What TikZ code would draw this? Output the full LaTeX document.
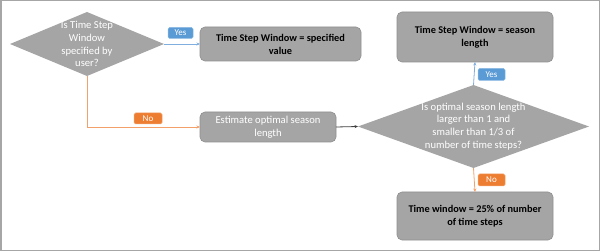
\documentclass[tikz,border=0pt]{standalone}
\usepackage{fontspec}
\setmainfont{Carlito}
\usetikzlibrary{shapes.geometric,arrows.meta}
\definecolor{boxgray}{HTML}{A5A5A5}
\definecolor{edgegray}{HTML}{8F8F8F}
\definecolor{lblue}{HTML}{5B9BD5}
\definecolor{lorange}{HTML}{ED7D31}
\definecolor{lineorange}{HTML}{F4A06A}
\definecolor{lineblue}{HTML}{7FAEDF}
\definecolor{framegray}{HTML}{A6A6A6}
\tikzset{
  procbox/.style={draw=edgegray, line width=0.6pt, fill=boxgray, rounded corners=5pt, inner sep=0pt, outer sep=0pt, align=center, font=\fontsize{10.3}{13}\selectfont\bfseries, text=black},
  dia/.style={diamond, fill=boxgray, draw=none, inner sep=0pt, outer sep=0pt},
  diatext/.style={align=center, text=white, font=\fontsize{10.6}{12.8}\selectfont, inner sep=0pt},
  lbl/.style={rounded corners=1.5pt, inner sep=0pt, minimum width=27pt, minimum height=12pt, text=white, font=\fontsize{9}{10}\selectfont},
  yeslbl/.style={lbl, fill=lblue, draw=lblue!70!white, line width=0.5pt},
  nolbl/.style={lbl, fill=lorange, draw=lorange!70!white, line width=0.5pt},
  arr/.style={-{Stealth[length=3.5pt,width=3pt]}, line width=0.8pt}
}
\begin{document}
\begin{tikzpicture}[x=1pt,y=-1pt]
\useasboundingbox (0,0) rectangle (600,251);
\draw[framegray, line width=1.5pt] (0.75,0.75) rectangle (599.25,250.25);

% decision 1
\node[dia, minimum width=154pt, minimum height=64pt] (d1) at (87,44) {};
\node[diatext] (d1t) at (87,44) {Is Time Step\\Window\\specified by\\user?};

% box specified value
\node[procbox, minimum width=161pt, minimum height=34pt] (b1) at (280.5,44) {Time Step Window = specified\\value};

% estimate box
\node[procbox, font=\fontsize{10.6}{13}\selectfont, text=white, minimum width=136pt, minimum height=30pt] (est) at (268,127) {Estimate optimal season\\length};

% decision 2
\node[dia, minimum width=231pt, minimum height=83pt] (d2) at (473.5,126.5) {};
\node[diatext] (d2t) at (473.5,126.5) {Is optimal season length\\larger than 1 and\\smaller than 1/3 of\\number of time steps?};

% top right box
\node[procbox, minimum width=156pt, minimum height=50pt] (b2) at (475,37) {Time Step Window = season\\length};

% bottom box
\node[procbox, minimum width=156pt, minimum height=48pt] (b3) at (475,216) {Time window = 25\% of number\\of time steps};

% connectors
\draw[arr, lineblue] (d1.east) -- (b1.west);
\coordinate (c1) at (d1.south |- est.west);
\draw[arr, lineorange] (d1.south) -- (c1) -- (est.west);
\draw[arr, black!75] (est.east) -- (d2.west);
\draw[arr, lineblue] (d2.north) -- (b2.south);
\draw[arr, lineorange] (d2.south) -- (b3.north);

% labels
\node[yeslbl, minimum width=25pt, minimum height=11pt] (y1) at (180.5,33) {Yes};
\node[nolbl, minimum width=28pt, minimum height=11pt] (n1) at (148,118.5) {No};
\node[yeslbl] (y2) at (491.5,74.5) {Yes};
\node[nolbl] (n2) at (491.5,180) {No};
\end{tikzpicture}
\end{document}
